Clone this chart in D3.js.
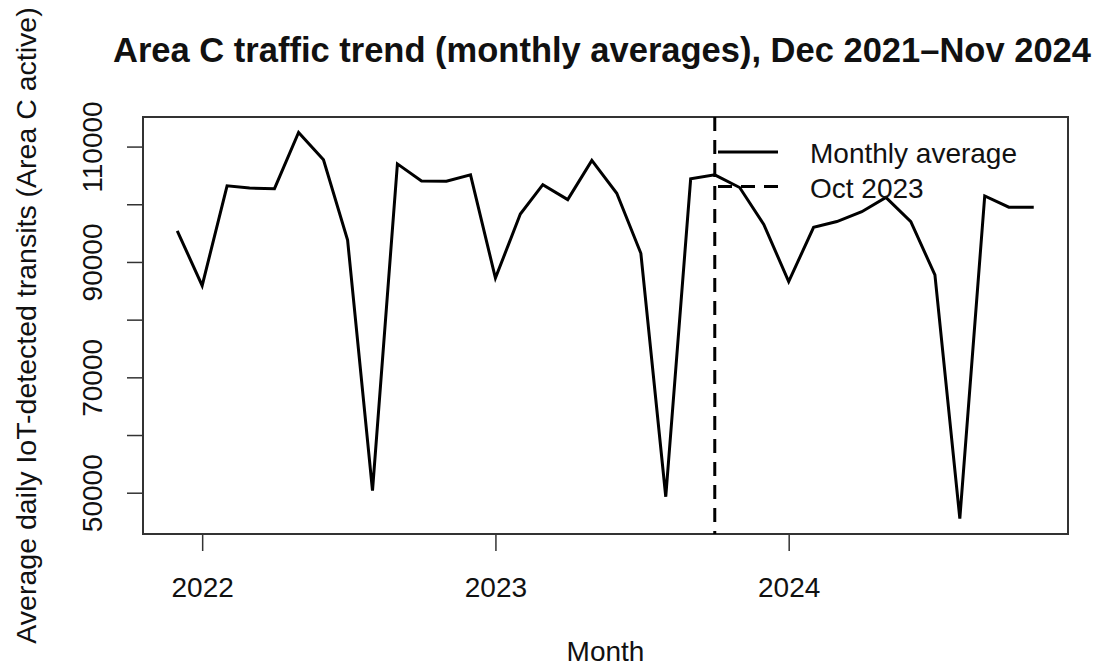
<!DOCTYPE html>
<html>
<head>
<meta charset="utf-8">
<script src="https://cdn.jsdelivr.net/npm/d3@7"></script>
<style>
  body { margin: 0; background: #fff; }
  text { font-family: "Liberation Sans", Arial, sans-serif; fill: #111; }
</style>
</head>
<body>
<div class="chart"></div>
<script>
// monthly averages, Dec 2021 - Nov 2024
const months = [
  '2021-12',
  '2022-01', '2022-02', '2022-03', '2022-04', '2022-05', '2022-06',
  '2022-07', '2022-08', '2022-09', '2022-10', '2022-11', '2022-12',
  '2023-01', '2023-02', '2023-03', '2023-04', '2023-05', '2023-06',
  '2023-07', '2023-08', '2023-09', '2023-10', '2023-11', '2023-12',
  '2024-01', '2024-02', '2024-03', '2024-04', '2024-05', '2024-06',
  '2024-07', '2024-08', '2024-09', '2024-10', '2024-11'
];
const transits = [
  95400,
  85900, 103200, 102800, 102700, 112450, 107700,
  93800, 50350, 107000, 104050, 104000, 105100,
  87200, 98300, 103400, 100800, 107600, 101900,
  91500, 49300, 104400, 105100, 102900, 96500,
  86600, 96000, 97000, 98700, 101200, 97000,
  87750, 45520, 101450, 99500, 99500
];
const yTicks = [50000, 60000, 70000, 80000, 90000, 100000, 110000];
const yTickLabels = ['50000', '', '70000', '', '90000', '', '110000'];
const xTicks = ['2022-01', '2023-01', '2024-01'];
const xTickLabels = ['2022', '2023', '2024'];
const markerMonth = '2023-10';
const legendLabels = ['Monthly average', 'Oct 2023'];

const parseMonth = d3.utcParse('%Y-%m');
const data = months.map((m, i) => ({ date: parseMonth(m), value: transits[i] }));

const W = 1097, H = 669;
const margin = { top: 117, right: 29, bottom: 135, left: 143 };
const width = W - margin.left - margin.right;
const height = H - margin.top - margin.bottom;

const svg = d3.select('.chart')
  .append('svg')
  .attr('width', W)
  .attr('height', H);

const g = svg.append('g')
  .attr('transform', `translate(${margin.left}, ${margin.top})`);

// R style 4% padding on both axes
const t0 = data[0].date, t1 = data[data.length - 1].date;
const tPad = (t1 - t0) * 0.04;
const xScale = d3.scaleUtc()
  .domain([new Date(+t0 - tPad), new Date(+t1 + tPad)])
  .range([0, width]);

const [vMin, vMax] = d3.extent(transits);
const vPad = (vMax - vMin) * 0.04;
const yScale = d3.scaleLinear()
  .domain([vMin - vPad, vMax + vPad])
  .range([height, 0]);

const axisColor = '#333';

// y axis
const yAxis = d3.axisLeft(yScale)
  .tickValues(yTicks)
  .tickSize(16)
  .tickFormat((d, i) => yTickLabels[i]);

const yg = g.append('g').call(yAxis);
yg.select('.domain').remove();
yg.selectAll('line').attr('stroke', axisColor).attr('stroke-width', 1.5);
yg.selectAll('text')
  .attr('transform', 'rotate(-90)')
  .attr('x', 0)
  .attr('y', -41)
  .attr('dy', null)
  .attr('text-anchor', 'middle')
  .style('font-size', '28px')
  .style('font-family', '"Liberation Sans", Arial, sans-serif')
  .attr('fill', '#111');

// x axis
const xAxis = d3.axisBottom(xScale)
  .tickValues(xTicks.map(parseMonth))
  .tickSize(17)
  .tickFormat((d, i) => xTickLabels[i]);

const xg = g.append('g')
  .attr('transform', `translate(0, ${height})`)
  .call(xAxis);
xg.select('.domain').remove();
xg.selectAll('line').attr('stroke', axisColor).attr('stroke-width', 1.5);
xg.selectAll('text')
  .attr('y', 63)
  .attr('dy', null)
  .style('font-size', '28px')
  .style('font-family', '"Liberation Sans", Arial, sans-serif')
  .attr('fill', '#111');

// plot box
g.append('rect')
  .attr('width', width)
  .attr('height', height)
  .attr('fill', 'none')
  .attr('stroke', axisColor)
  .attr('stroke-width', 2);

// series
const line = d3.line()
  .x(d => xScale(d.date))
  .y(d => yScale(d.value));

g.append('path')
  .datum(data)
  .attr('d', line)
  .attr('fill', 'none')
  .attr('stroke', '#000')
  .attr('stroke-width', 3)
  .attr('stroke-linejoin', 'miter');

// Oct 2023 marker
const mx = xScale(parseMonth(markerMonth));
g.append('line')
  .attr('x1', mx).attr('x2', mx)
  .attr('y1', 0).attr('y2', height)
  .attr('stroke', '#000')
  .attr('stroke-width', 3)
  .attr('stroke-dasharray', '14,9');

// legend (no box)
const legend = svg.append('g').attr('transform', 'translate(718, 152)');
legendLabels.forEach((lab, i) => {
  const row = legend.append('g').attr('transform', `translate(0, ${i * 34.5})`);
  row.append('line')
    .attr('x1', 0).attr('x2', 60)
    .attr('stroke', '#000')
    .attr('stroke-width', 3)
    .attr('stroke-dasharray', i === 1 ? '14,9' : null);
  row.append('text')
    .attr('x', 92)
    .attr('y', 11)
    .style('font-size', '28px')
    .text(lab);
});

// titles
svg.append('text')
  .attr('x', 602)
  .attr('y', 62)
  .attr('text-anchor', 'middle')
  .style('font-size', '34.5px')
  .style('font-weight', 'bold')
  .text('Area C traffic trend (monthly averages), Dec 2021\u2013Nov 2024');

svg.append('text')
  .attr('x', margin.left + width / 2)
  .attr('y', 661)
  .attr('text-anchor', 'middle')
  .style('font-size', '28px')
  .text('Month');

svg.append('text')
  .attr('transform', `translate(36, ${margin.top + height / 2}) rotate(-90)`)
  .attr('text-anchor', 'middle')
  .style('font-size', '28.5px')
  .text('Average daily IoT-detected transits (Area C active)');
</script>
</body>
</html>
